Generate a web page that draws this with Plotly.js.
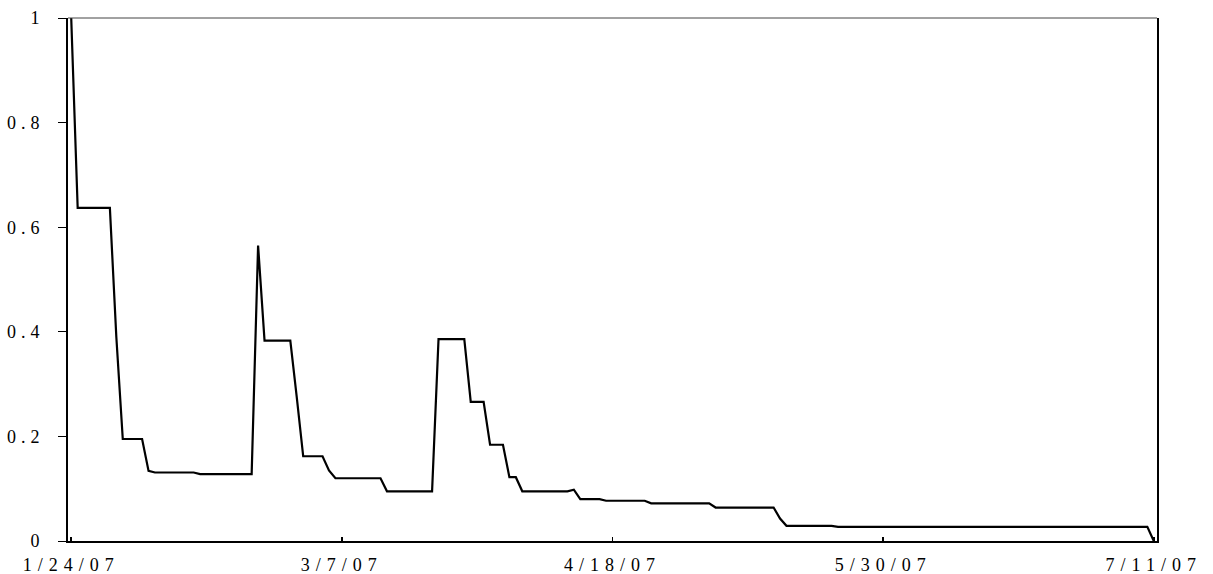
<!DOCTYPE html>
<html>
<head>
<meta charset="utf-8">
<script src="https://cdn.plot.ly/plotly-3.0.1.min.js"></script>
<style>
  html, body { margin: 0; padding: 0; background: #fff; }
  #chart { width: 1213px; height: 574px; }
  .xtick text { letter-spacing: 6px; }
  .ytick text { letter-spacing: 5px; }
</style>
</head>
<body>
<div id="chart"></div>
<script>
// Break points of the series (flat segments between equal values)
const dates = [
  '2007-01-24','2007-01-25','2007-01-30','2007-01-31','2007-02-01','2007-02-04',
  '2007-02-05','2007-02-06','2007-02-12','2007-02-13','2007-02-21','2007-02-22',
  '2007-02-23','2007-02-27','2007-02-28','2007-03-01','2007-03-04','2007-03-05',
  '2007-03-06','2007-03-13','2007-03-14','2007-03-21','2007-03-22','2007-03-26',
  '2007-03-27','2007-03-29','2007-03-30','2007-04-01','2007-04-02','2007-04-03',
  '2007-04-04','2007-04-11','2007-04-12','2007-04-13','2007-04-16','2007-04-17',
  '2007-04-23','2007-04-24','2007-05-03','2007-05-04','2007-05-13','2007-05-14',
  '2007-05-15','2007-05-22','2007-05-23','2007-07-10','2007-07-11'
];
const values = [
  1.0, 0.637, 0.637, 0.39, 0.195, 0.195,
  0.134, 0.131, 0.131, 0.128, 0.128, 0.565,
  0.383, 0.383, 0.275, 0.162, 0.162, 0.135,
  0.12, 0.12, 0.095, 0.095, 0.386, 0.386,
  0.266, 0.266, 0.184, 0.184, 0.122, 0.122,
  0.095, 0.095, 0.098, 0.08, 0.08, 0.077,
  0.077, 0.072, 0.072, 0.064, 0.064, 0.043,
  0.029, 0.029, 0.027, 0.027, 0
];
const xTickVals = ['2007-01-24','2007-03-07','2007-04-18','2007-05-30','2007-07-11'];
const xTickText = ['1/24/07','3/7/07','4/18/07','5/30/07','7/11/07'];
const yTickVals = [0, 0.2, 0.4, 0.6, 0.8, 1];
const yTickText = ['0','0.2','0.4','0.6','0.8','1'];

const font = {family: '"Liberation Serif", "Times New Roman", serif', size: 18, color: '#000'};

const trace = {
  x: dates, y: values, type: 'scatter', mode: 'lines',
  line: {color: '#000', width: 2.2},
  hoverinfo: 'skip', showlegend: false
};

const layout = {
  width: 1213, height: 574,
  margin: {l: 68, r: 56, t: 18, b: 33},
  paper_bgcolor: '#fff', plot_bgcolor: '#fff',
  font: font,
  xaxis: {
    type: 'date',
    range: ['2007-01-23 12:00', '2007-07-11 12:00'],
    tickvals: xTickVals, ticktext: xTickText,
    showgrid: false, zeroline: false,
    showline: true, linecolor: '#000', linewidth: 2,
    ticks: 'inside', ticklen: 4, tickwidth: 1.5, tickcolor: '#000',
    ticklabelstandoff: 6,
    tickfont: font
  },
  yaxis: {
    range: [0, 1],
    tickvals: yTickVals, ticktext: yTickText,
    showgrid: false, zeroline: false,
    showline: true, linecolor: '#000', linewidth: 2, mirror: true,
    ticks: 'outside', ticklen: 8, tickwidth: 1, tickcolor: '#000',
    ticklabelstandoff: 10,
    tickfont: font
  },
  shapes: [{
    type: 'line', xref: 'paper', yref: 'paper',
    x0: 0, x1: 1, y0: 1, y1: 1,
    line: {color: '#444', width: 1}
  }]
};

Plotly.newPlot('chart', [trace], layout, {displayModeBar: false, staticPlot: true});
</script>
</body>
</html>
